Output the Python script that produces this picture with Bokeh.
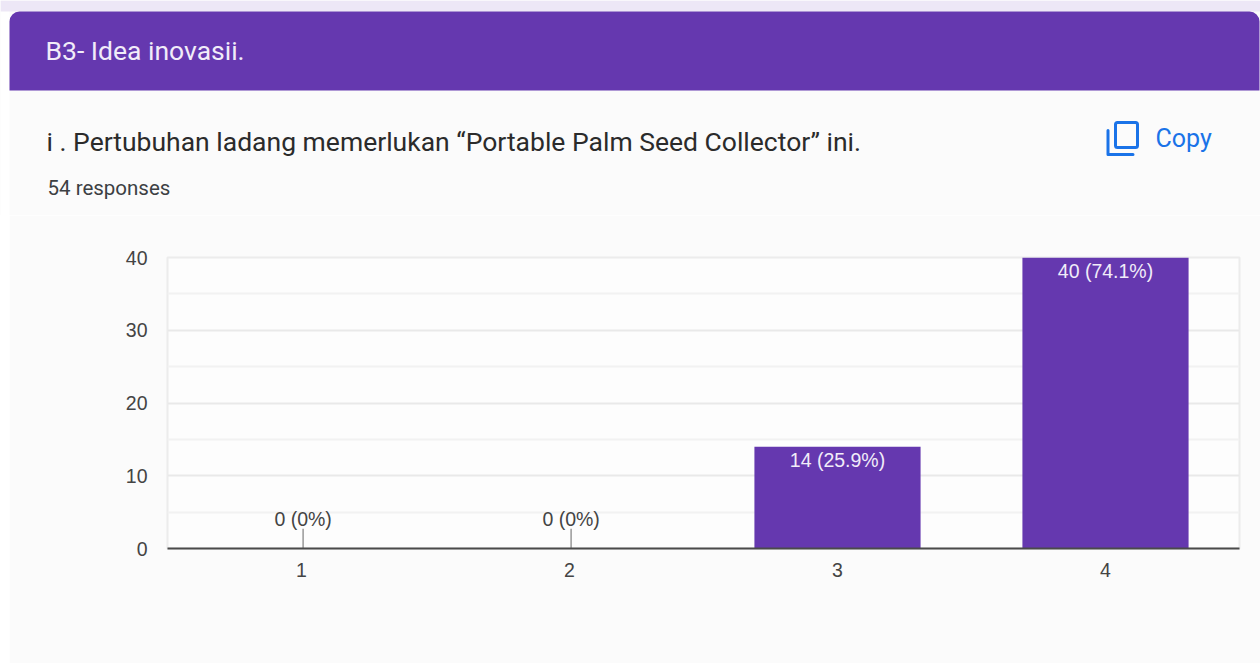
from bokeh.embed import file_html
from bokeh.layouts import column
from bokeh.models import ColumnDataSource, FactorRange, FixedTicker, Range1d
from bokeh.plotting import figure
from bokeh.resources import INLINE
from bokeh.core.properties import value
from bokeh.transform import dodge

# Survey responses
categories = ["1", "2", "3", "4"]
counts = [0, 0, 14, 40]
percent_labels = ["0 (0%)", "0 (0%)", "14 (25.9%)", "40 (74.1%)"]
y_ticks = [0, 10, 20, 30, 40]
minor_ticks = [5, 15, 25, 35]

section_title = "B3- Idea inovasii."
question = "i . Pertubuhan ladang memerlukan \u201cPortable Palm Seed Collector\u201d ini."
responses = "54 responses"
copy_text = "Copy"

PURPLE = "#6538af"
PAGE = "#fbfbfb"
PLOT_BG = "#fdfdfd"
BLUE = "#1a73e8"
WIDTH, HEIGHT = 1260, 663
HEADER_H = 215
CARD_LEFT = 9
FRAME_LEFT, FRAME_RIGHT, FRAME_TOP, FRAME_BOTTOM = 167, 1239, 257, 548
SANS = "Liberation Sans"

# Card heading, drawn in a strip whose data units are window pixels
head = figure(width=WIDTH, height=HEADER_H, x_range=Range1d(0, WIDTH), y_range=Range1d(HEADER_H, 0),
              output_backend="svg", toolbar_location=None, min_border=0, frame_align=False,
              background_fill_color=PAGE, border_fill_color=PAGE,
              outline_line_color=None, x_axis_type=None, y_axis_type=None)
head.grid.visible = False

head.quad(left=0, right=CARD_LEFT, top=0, bottom=HEADER_H + 5, fill_color="#ffffff", line_color=None)
head.quad(left=0, right=WIDTH, top=0, bottom=11, fill_color="#ede7f6", line_color=None)
head.quad(left=CARD_LEFT, right=1259, top=11, bottom=90, fill_color=PURPLE, line_color=None,
          border_radius=dict(top_left=10, top_right=10, bottom_right=0, bottom_left=0))

# Copy icon: front sheet plus the L-shaped sheet behind it
head.quad(left=1115, right=1137, top=122, bottom=147, fill_alpha=0, line_color=BLUE, line_width=3,
          border_radius=2)
head.line(x=[1107.5, 1107.5, 1132.5], y=[130, 154, 154], line_color=BLUE, line_width=3,
          line_join="round", line_cap="round")


def add_text(text, x, y, color, size):
    head.text(x=[x], y=[y], text=[text], text_color=color, text_font=value("Roboto"),
              text_font_size=size, text_baseline="middle")


add_text(section_title, 45, 49.5, "#f1ecf9", "26.5px")
add_text(question, 46, 141, "#2b2b2b", "26.5px")
add_text(responses, 47, 187, "#3c4043", "20.5px")
add_text(copy_text, 1155, 138, BLUE, "25px")

# Bar chart of the answer counts
p = figure(width=WIDTH - CARD_LEFT, height=HEIGHT - HEADER_H,
           x_range=FactorRange(*categories, range_padding=0, factor_padding=0),
           y_range=Range1d(0, 40), output_backend="svg", toolbar_location=None,
           min_border_left=FRAME_LEFT - CARD_LEFT, min_border_right=WIDTH - FRAME_RIGHT,
           min_border_top=FRAME_TOP - HEADER_H, min_border_bottom=HEIGHT - FRAME_BOTTOM,
           background_fill_color=PLOT_BG, border_fill_color=PAGE, frame_align=False,
           outline_line_color="#ececec", outline_line_width=2,
           margin=(0, 0, 0, CARD_LEFT))

source = ColumnDataSource(dict(cat=categories, count=counts, label=percent_labels))
p.vbar(x="cat", top="count", width=0.62, source=source, fill_color=PURPLE, line_color=None)

# Zero-height bars get a short stem below their label
zero = ColumnDataSource(dict(
    cat=[c for c, v in zip(categories, counts) if v == 0],
    base=[v for v in counts if v == 0],
    stem=[v + 2.7 for v in counts if v == 0],
    label=[l for l, v in zip(percent_labels, counts) if v == 0],
))
stem_x = dodge("cat", 0.006, range=p.x_range)
p.segment(x0=stem_x, y0="base", x1=stem_x, y1="stem", source=zero,
          line_color="#999999", line_width=1.5)
p.text(x=stem_x, y="base", text="label", source=zero, y_offset=-30, text_align="center",
       text_baseline="middle", text_font=value(SANS), text_font_size="19.5px", text_color="#444444")

bar_cats = [c for c, v in zip(categories, counts) if v > 0]
p.text(x=bar_cats, y=[v for v in counts if v > 0], text=[l for l, v in zip(percent_labels, counts) if v > 0],
       y_offset=13, text_align="center", text_baseline="middle",
       text_font=value(SANS), text_font_size="19.5px", text_color="#f1ecf9")

p.yaxis.ticker = FixedTicker(ticks=y_ticks, minor_ticks=minor_ticks)
p.yaxis.major_tick_out = 0
p.yaxis.major_tick_line_color = None
p.yaxis.minor_tick_line_color = None
p.yaxis.axis_line_color = None
p.yaxis.major_label_text_color = "#444444"
p.yaxis.major_label_text_font = SANS
p.yaxis.major_label_text_font_size = "19.5px"
p.yaxis.major_label_standoff = 16

p.xaxis.major_tick_out = 0
p.xaxis.major_tick_line_color = None
p.xaxis.minor_tick_line_color = None
p.xaxis.axis_line_color = "#4a4a4a"
p.xaxis.axis_line_width = 2
p.xaxis.major_label_text_color = "#444444"
p.xaxis.major_label_text_font = SANS
p.xaxis.major_label_text_font_size = "19.5px"
p.xaxis.major_label_standoff = 14

p.xgrid.grid_line_color = None
p.ygrid.grid_line_color = "#e9e9e9"
p.ygrid.grid_line_width = 2
p.ygrid.minor_grid_line_color = "#f2f2f2"
p.ygrid.minor_grid_line_width = 2

open("out.html", "w").write(file_html(column(head, p, spacing=0), INLINE))
